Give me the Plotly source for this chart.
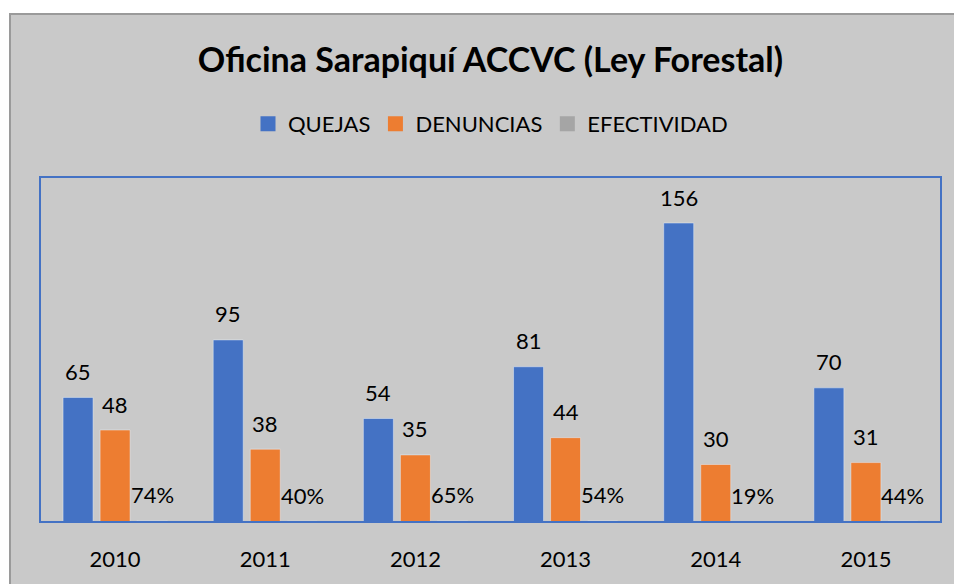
import plotly.graph_objects as go

years = ["2010", "2011", "2012", "2013", "2014", "2015"]
quejas = [65, 95, 54, 81, 156, 70]
denuncias = [48, 38, 35, 44, 30, 31]
efectividad = [0.74, 0.40, 0.65, 0.54, 0.19, 0.44]
efectividad_labels = ["74%", "40%", "65%", "54%", "19%", "44%"]

names = ["QUEJAS", "DENUNCIAS", "EFECTIVIDAD"]
colors = ["#4472C4", "#ED7D31", "#A5A5A5"]

title = "Oficina Sarapiquí ACCVC (Ley Forestal)"
FONT = "Lato"
BG = "#C9C9C9"

W, H = 954, 584
L, R, T, B = 40, 13, 177, 62
PW, PH = W - L - R, H - T - B

fig = go.Figure()
for name, vals, col in zip(names, [quejas, denuncias, efectividad], colors):
    fig.add_trace(go.Bar(name=name, x=years, y=vals, marker_color=col,
                         legendgroup=name, showlegend=False))
# legend entries with larger square swatches
for name, col in zip(names, colors):
    fig.add_trace(go.Scatter(name=name, x=[None], y=[None], mode="markers",
                             marker=dict(symbol="square", size=15, color=col),
                             legendgroup=name, showlegend=True))

# data labels
series = [
    (quejas, [str(v) for v in quejas], -37),
    (denuncias, [str(v) for v in denuncias], 0),
    (efectividad, efectividad_labels, 37),
]
annotations = []
for vals, labels, xs in series:
    for i, (v, lab) in enumerate(zip(vals, labels)):
        annotations.append(dict(
            x=i, y=v, text=lab, showarrow=False, xshift=xs, yshift=26,
            yanchor="middle", xanchor="center",
            font=dict(family=FONT, size=22, color="#000000")))

fig.update_layout(
    width=W, height=H,
    margin=dict(l=L, r=R, t=T, b=B, autoexpand=False),
    paper_bgcolor="white",
    plot_bgcolor=BG,
    barmode="group",
    bargap=0.26,
    bargroupgap=0.19,
    title=dict(text="<b>" + title + "</b>", x=0.5, xref="paper", xanchor="center",
               y=1 - 60 / H, yref="container", yanchor="middle",
               font=dict(family=FONT, size=34, color="#000000")),
    legend=dict(orientation="h", x=0.5, xanchor="center", y=1.154, yanchor="middle",
                font=dict(family=FONT, size=22, color="#000000"),
                bgcolor="rgba(0,0,0,0)", itemsizing="trace"),
    showlegend=True,
    hovermode=False,
    xaxis=dict(type="category", range=[-0.5, len(years) - 0.5], showgrid=False,
               zeroline=False, showline=False, ticks="",
               tickfont=dict(family=FONT, size=22, color="#000000"),
               ticklabelstandoff=22, automargin=False),
    yaxis=dict(range=[0, 180], visible=False, showgrid=False, automargin=False),
    annotations=annotations,
    shapes=[
        dict(type="rect", xref="paper", yref="paper", x0=(10 - L) / PW, x1=(W + 20 - L) / PW,
             y0=-(B + 20) / PH, y1=(PH + T - 14) / PH, layer="below",
             fillcolor=BG, line=dict(color="#9A9A9A", width=2)),
        dict(type="rect", xref="paper", yref="paper", x0=0, x1=1, y0=0, y1=1,
             layer="above", line=dict(color="#4472C4", width=2)),
    ],
)

fig.write_html("out.html", config={"displayModeBar": False},
               post_script="document.body.style.margin='0';document.body.style.overflow='hidden';")
